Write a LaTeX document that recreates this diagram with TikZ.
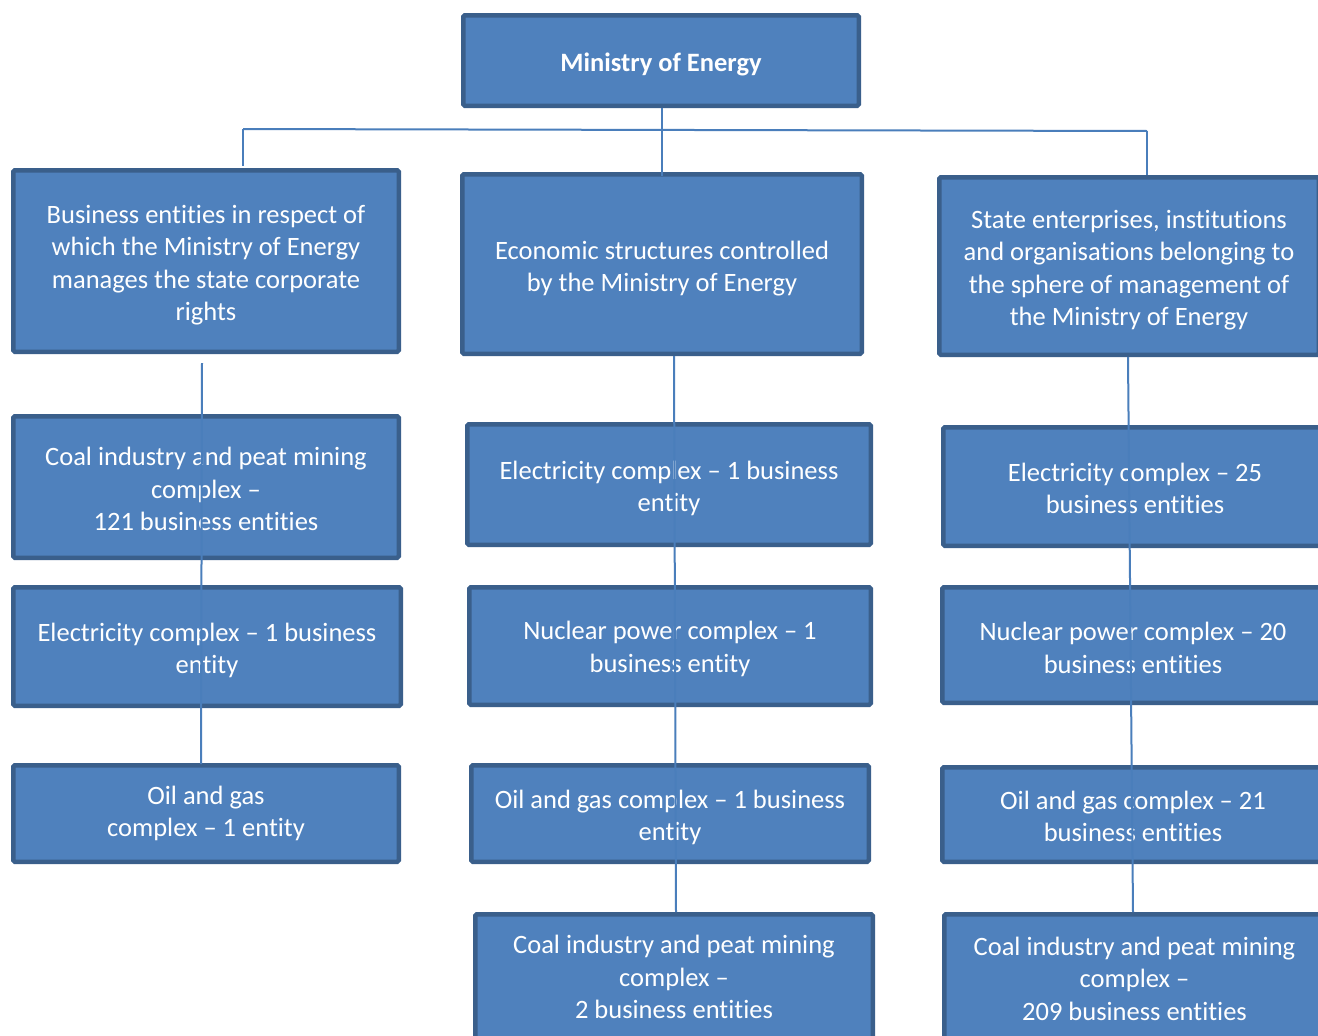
\documentclass[tikz,border=0pt]{standalone}
\usepackage{fontspec}
\setmainfont[Ligatures=NoCommon]{Carlito}
\definecolor{boxfill}{HTML}{4F81BD}
\definecolor{boxline}{HTML}{3A5F8B}
\definecolor{conn}{HTML}{4A7EBB}
\begin{document}
\begin{tikzpicture}[x=1pt,y=-1pt,
  box/.style={draw=boxline, fill=boxfill, line width=4.5pt, rounded corners=1.5pt,
    inner sep=0pt},
  lab/.style={align=center, text=white, inner sep=0pt,
    font=\fontsize{26.5}{32.5}\selectfont},
  link/.style={draw=conn, line width=2pt}]
\clip (0,0) rectangle (1318,1036);
\fill[white] (0,0) rectangle (1318,1036);

\node[box, minimum width=395.5pt, minimum height=90.5pt,
  label={[lab, font=\fontsize{26.5}{32.5}\selectfont\bfseries, yshift=-4pt]center:{Ministry of Energy}}] (min) at (661,60.5) {};

\node[box, minimum width=385.5pt, minimum height=181.5pt,
  label={[lab, yshift=-4pt]center:{Business entities in respect of\\which the Ministry of Energy\\manages the state corporate\\rights}}] (l1) at (206,261) {};
\node[box, minimum width=399.5pt, minimum height=179.5pt,
  label={[lab, yshift=-4.5pt]center:{Economic structures controlled\\by the Ministry of Energy}}] (m1) at (662,264) {};
\node[box, minimum width=379.5pt, minimum height=177.5pt,
  label={[lab, yshift=-4pt]center:{State enterprises, institutions\\and organisations belonging to\\the sphere of management of\\the Ministry of Energy}}] (r1) at (1129,266) {};

\node[box, minimum width=385.5pt, minimum height=141.5pt,
  label={[lab, yshift=-2pt]center:{Coal industry and peat mining\\complex –\\121 business entities}}] (l2) at (206,487) {};
\node[box, minimum width=387.5pt, minimum height=118.5pt,
  label={[lab, yshift=-4pt]center:{Electricity complex – 1 business\\entity}}] (l3) at (207,646.5) {};
\node[box, minimum width=385.5pt, minimum height=96.5pt,
  label={[lab]center:{Oil and gas\\complex – 1 entity}}] (l4) at (206,813.5) {};

\node[box, minimum width=403.5pt, minimum height=120.5pt,
  label={[lab, yshift=-4pt]center:{Electricity complex – 1 business\\entity}}] (m2) at (669,484.5) {};
\node[box, minimum width=401.5pt, minimum height=117.5pt,
  label={[lab, yshift=-3pt]center:{Nuclear power complex – 1\\business entity}}] (m3) at (670,646) {};
\node[box, minimum width=397.5pt, minimum height=96.5pt,
  label={[lab, yshift=-4pt]center:{Oil and gas complex – 1 business\\entity}}] (m4) at (670,813.5) {};
\node[box, minimum width=397.5pt, minimum height=125.5pt,
  label={[lab]center:{Coal industry and peat mining\\complex –\\2 business entities}}] (m5) at (674,977) {};

\node[box, minimum width=383.5pt, minimum height=118.5pt,
  label={[lab, yshift=-2pt]center:{Electricity complex – 25\\business entities}}] (r2) at (1135,486.5) {};
\node[box, minimum width=381.5pt, minimum height=115.5pt,
  label={[lab, yshift=-3pt]center:{Nuclear power complex – 20\\business entities}}] (r3) at (1133,645) {};
\node[box, minimum width=381.5pt, minimum height=94.5pt,
  label={[lab, yshift=-2pt]center:{Oil and gas complex – 21\\business entities}}] (r4) at (1133,814.5) {};
\node[box, minimum width=380.5pt, minimum height=128.5pt,
  label={[lab]center:{Coal industry and peat mining\\complex –\\209 business entities}}] (r5) at (1134.5,978.5) {};

% connectors
\coordinate (hl) at (243,129);
\coordinate (hr) at (1147,131);
\coordinate (ltop) at (243,166);
\coordinate (rtop) at (1147,175);
\coordinate (mtop) at (662,108);
\coordinate (mbot) at (662,176);
\draw[link] (hl) -- (hr);
\draw[link] (hl) -- (ltop);
\draw[link] (hr) -- (rtop);
\draw[link] (mtop) -- (mbot);

\coordinate (lc1) at (202,363);
\coordinate (lc2) at (201,764);
\coordinate (mc1) at (674,356);
\coordinate (mc2) at (676,912);
\coordinate (rc1) at (1128,357);
\coordinate (rc2) at (1133,912);
\draw[link] (lc1) -- (lc2);
\draw[link] (mc1) -- (mc2);
\draw[link] (rc1) -- (rc2);
\end{tikzpicture}
\end{document}
